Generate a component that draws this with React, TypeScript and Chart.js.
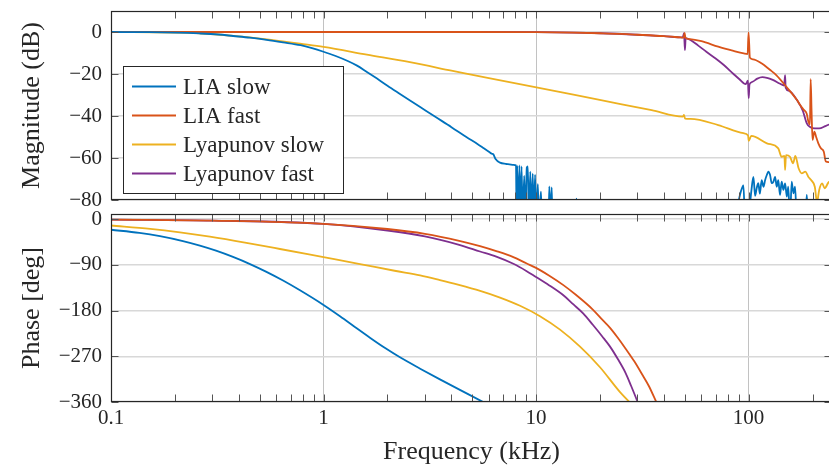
import React, { useEffect, useRef } from "react";
import { Chart, registerables } from "chart.js";

Chart.register(...registerables);

const SERIF = '"Liberation Serif", "Times New Roman", Times, serif';
const INK = "#262626";

const seriesNames = ["LIA slow", "LIA fast", "Lyapunov slow", "Lyapunov fast"];
const seriesColors = ["#0072BD", "#D95319", "#EDB120", "#7E2F8E"];

// Frequency axis (kHz)
const freqMin = 0.1;
const freqMax = 247;
const freqTicks = [
  0.1, 0.2, 0.3, 0.4, 0.5, 0.6, 0.7, 0.8, 0.9,
  1, 2, 3, 4, 5, 6, 7, 8, 9,
  10, 20, 30, 40, 50, 60, 70, 80, 90,
  100, 200,
];
const freqLabelValues = [0.1, 1, 10, 100];
const freqLabels = ["0.1", "1", "10", "100"];

// Magnitude axis (dB)
const magMin = -80;
const magMax = 10;
const magTicks = [0, -20, -40, -60, -80];

// Phase axis (deg)
const phaseMin = -360;
const phaseMax = 10;
const phaseTicks = [0, -90, -180, -270, -360];

// ---- Magnitude responses ----
const liaSlowMagFreq = [
  0.1, 0.15, 0.2, 0.26, 0.32, 0.376, 0.451, 0.54, 0.645, 0.78,
  0.883, 1.0, 1.133, 1.3, 1.438, 1.6, 1.786, 2.0, 2.3, 2.85,
  3.3, 4.0, 4.7, 5.3, 5.65, 6.0, 6.2, 6.3, 6.45, 6.77,
  7.2, 7.5, 7.85, 8.05, 8.1, 8.15, 8.25, 8.35, 8.45, 8.55,
  8.65, 8.8, 8.9, 9.05, 9.15, 9.25, 9.4, 9.5, 9.65, 9.75,
  9.9, 10.0, 10.2, 10.3, 10.55, 10.65, 11.45, 11.55, 11.7, 11.85,
  11.95, 15.3, 15.5, 15.7, 85, 89.5, 92, 94.6, 96.3, 100,
  103, 105.4, 107.4, 109.4, 111.2, 113, 115.3, 117.5, 119.7, 122,
  123.9, 126.2, 128.5, 130.9, 133.3, 135.8, 138, 140.6, 143.2, 145.9,
  148.6, 151.4, 153.8, 156.7, 159.6, 162.6, 165.6, 168.7, 185, 187.9,
  191, 247,
];
const liaSlowMagDb = [
  0, -0.1, -0.3, -0.7, -1.2, -1.9, -2.7, -3.7, -4.9, -6.3,
  -7.7, -9.4, -11.3, -13.8, -16, -19, -22.2, -25.6, -29.6, -35.7,
  -39.9, -45.3, -50, -53.3, -55.2, -57, -58, -58.3, -60.5, -62.2,
  -62.8, -63, -63.3, -63.5, -90, -63.7, -90, -63.5, -90, -64,
  -90, -68.5, -90, -64.5, -64, -90, -66.5, -90, -67.5, -90,
  -68, -90, -72.5, -90, -76, -90, -90, -73.5, -90, -74,
  -90, -90, -79.3, -90, -90, -81, -76, -73, -90, -88,
  -76, -69, -78, -74, -72, -77, -70.5, -73.7, -70.5, -68,
  -66.5, -68, -72, -71.3, -69, -73.7, -70.5, -77.6, -71.3, -75.2,
  -72.1, -78.4, -73.7, -90, -71.3, -76.8, -73.7, -90, -90, -77.6,
  -90, -90,
];

const liaFastMagFreq = [
  0.1, 1, 5, 10, 15, 20, 25, 30, 40, 48,
  49.5, 50, 50.5, 53, 60, 72, 85, 95, 99, 100,
  101.5, 105, 115, 126, 135, 151, 169, 175, 182, 188,
  191, 194.5, 196, 198, 200, 204, 208, 213, 219, 226,
  231, 240, 247,
];
const liaFastMagDb = [
  0, 0, 0, -0.1, -0.3, -0.6, -0.9, -1.3, -2.0, -2.6,
  -2.7, -0.4, -2.8, -3.4, -4.4, -7, -9, -10.2, -10.5, -0.2,
  -12.3, -13, -14.9, -18, -20.5, -26.2, -32.4, -34.8, -37.1, -39,
  -42.5, -44, -22.5, -38, -51.4, -47.5, -50, -53, -55.4, -57,
  -61.7, -62, -63,
];

const lyapSlowMagFreq = [
  0.1, 0.2, 0.262, 0.376, 0.541, 0.776, 1.0, 1.6, 2.55, 4,
  6, 9.9, 15, 25, 35, 49, 49.7, 50.3, 53.3, 72,
  94.6, 99.5, 100.2, 103, 122, 138, 143, 147.5, 148.6, 150,
  156.7, 162, 166, 172, 178, 185, 191, 197, 205, 210,
  215, 222, 228, 240, 247,
];
const lyapSlowMagDb = [
  0, -0.3, -0.6, -1.8, -3.5, -5.6, -7.1, -10.8, -14.4, -18.4,
  -22, -26.3, -29.8, -34.3, -37.2, -40.3, -39.5, -41.3, -41.4, -44.3,
  -48.2, -49.3, -51.8, -49.5, -53, -55.4, -59.4, -59, -65.7, -58.6,
  -59.4, -62.5, -59, -64.9, -67.3, -66.5, -68.9, -70.5, -73.7, -81,
  -75.2, -72.1, -74.4, -71.3, -72,
];

const lyapFastMagFreq = [
  0.1, 1, 5, 10, 20, 30, 40, 49, 49.7, 50.2,
  50.6, 53.3, 58, 63.3, 70, 76.5, 85, 90.6, 97, 99.3,
  100.2, 101, 104, 110, 116, 122, 130, 140, 147, 148.6,
  149.5, 155, 169, 180, 188, 194, 205, 215, 230, 247,
];
const lyapFastMagDb = [
  0, 0, 0, -0.1, -0.6, -1.3, -2.0, -2.6, -0.6, -8.6,
  -2.9, -3.8, -6.5, -9.4, -12.6, -15.7, -20, -22.5, -24.8, -23.2,
  -31.5, -25, -23.8, -22.2, -21.5, -21.8, -22.8, -24.5, -25.5, -20.5,
  -26.5, -28, -32.4, -37.5, -43.5, -45.1, -45.9, -45.9, -44.8, -43.5,
];

// ---- Phase responses ----
const liaSlowPhaseFreq = [
  0.1, 0.136, 0.17, 0.218, 0.262, 0.312, 0.375, 0.451, 0.536, 0.645,
  0.775, 1.0, 1.2, 1.41, 1.66, 1.95, 2.29, 2.85, 3.53, 4.89, 6.77,
];
const liaSlowPhaseDeg = [
  -21, -27.2, -33.7, -43.4, -52.3, -62.2, -74.5, -88.6, -103.5, -121,
  -140.2, -169, -191.7, -212.9, -234, -253.9, -272.1, -294.4, -315.5, -346.5, -377.4,
];

const liaFastPhaseFreq = [
  0.1, 0.3, 1.0, 2.0, 3.0, 4.35, 5.45, 6.5, 7.82, 9,
  10, 11.5, 13.45, 15.5, 18.5, 20.5, 22.3, 24.3, 26.4, 29,
  31.8, 34, 36.7, 39,
];
const liaFastPhaseDeg = [
  -1, -3, -9.3, -19.5, -29, -42.7, -53.2, -63, -74.9, -87,
  -96, -111, -130, -150, -178, -198, -214, -234, -255, -280,
  -308, -329, -359, -383,
];

const lyapSlowPhaseFreq = [
  0.1, 0.153, 0.211, 0.292, 0.427, 0.624, 1.0, 1.485, 2.16, 2.85,
  3.53, 4.29, 5.46, 6.77, 8.41, 10.44, 12.97, 16.11, 20.0, 24.85,
  30.86,
];
const lyapSlowPhaseDeg = [
  -12.6, -19.2, -26.1, -34.7, -46.3, -58.9, -75, -88.5, -101.7, -110.7,
  -119.9, -128.9, -141.2, -154.4, -170.6, -191.1, -217.6, -251.1, -291.6, -340.6,
  -381,
];

const lyapFastPhaseFreq = [
  0.1, 0.3, 1.0, 2.0, 3.0, 4.35, 5.45, 6.5, 7.82, 9,
  10, 11.5, 13.45, 15, 16.7, 18.5, 20.5, 22.3, 24.3, 26.4,
  28, 30, 32,
];
const lyapFastPhaseDeg = [
  -1, -3, -9.5, -22.5, -34, -50.6, -63.8, -74, -88, -102,
  -114, -130, -150, -168, -186, -208, -231, -251, -276, -303,
  -328, -359, -390,
];

type Pt = { x: number; y: number };
const toPoints = (f: number[], v: number[]): Pt[] => f.map((x, i) => ({ x, y: v[i] }));

const signed = (v: number) => (v < 0 ? "\u2212" + Math.abs(v) : String(v));
const isDecade = (v: number | undefined) => {
  if (v === undefined || v <= 0) return false;
  const l = Math.log10(v);
  return Math.abs(l - Math.round(l)) < 1e-9;
};

function makeDatasets(series: Pt[][]) {
  return series.map((data, i) => ({
    label: seriesNames[i],
    data,
    borderColor: seriesColors[i],
    backgroundColor: seriesColors[i],
    borderWidth: 1.8,
    pointRadius: 0,
    fill: false,
    cubicInterpolationMode: "monotone" as const,
    clip: 0,
  }));
}

// Box around the plot area with inward tick marks on all four sides
const axesFrame = {
  id: "axesFrame",
  afterDatasetsDraw(chart: any) {
    const { ctx, chartArea: a, scales } = chart;
    const L = Math.round(a.left) + 0.5;
    const R = Math.round(a.right) - 0.5;
    const T = Math.round(a.top) + 0.5;
    const B = Math.round(a.bottom) - 0.5;
    ctx.save();
    ctx.lineWidth = 1;
    ctx.strokeStyle = "#555555";
    ctx.beginPath();
    for (const v of freqTicks) {
      const x = Math.round(scales.x.getPixelForValue(v)) + 0.5;
      if (x <= L + 1 || x >= R - 1) continue;
      ctx.moveTo(x, T);
      ctx.lineTo(x, T + 7);
      ctx.moveTo(x, B);
      ctx.lineTo(x, B - 7);
    }
    for (const t of scales.y.ticks) {
      const y = Math.round(scales.y.getPixelForValue(t.value)) + 0.5;
      ctx.moveTo(L, y);
      ctx.lineTo(L + 7, y);
      ctx.moveTo(R, y);
      ctx.lineTo(R - 7, y);
    }
    ctx.stroke();
    ctx.strokeStyle = INK;
    ctx.lineWidth = 1.2;
    ctx.strokeRect(L, T, R - L, B - T);
    ctx.restore();
  },
};

// Legend box placed inside the lower-left corner of the plot area
const insetLegend = {
  id: "insetLegend",
  afterDraw(chart: any, _args: any, opts: any) {
    if (!opts || !opts.show) return;
    const { ctx, chartArea: a } = chart;
    const w = 220;
    const h = 127;
    const x0 = Math.round(a.left) + 12;
    const y0 = Math.round(a.bottom) - 7 - h;
    ctx.save();
    ctx.fillStyle = "#ffffff";
    ctx.fillRect(x0, y0, w, h);
    ctx.lineWidth = 1;
    ctx.strokeStyle = INK;
    ctx.strokeRect(x0 + 0.5, y0 + 0.5, w, h);
    ctx.font = `23px ${SERIF}`;
    ctx.textBaseline = "middle";
    ctx.textAlign = "left";
    chart.data.datasets.forEach((ds: any, i: number) => {
      const y = y0 + 20.5 + i * 29;
      ctx.strokeStyle = ds.borderColor;
      ctx.lineWidth = 2;
      ctx.beginPath();
      ctx.moveTo(x0 + 9, y);
      ctx.lineTo(x0 + 53, y);
      ctx.stroke();
      ctx.fillStyle = INK;
      ctx.fillText(ds.label, x0 + 60, y + 1);
    });
    ctx.restore();
  },
};

type PanelOpts = {
  series: Pt[][];
  yMin: number;
  yMax: number;
  yTicks: number[];
  yTitle: string;
  showFreq: boolean;
  legend: boolean;
  padding: { top: number; right: number; bottom: number; left: number };
};

function panelConfig(o: PanelOpts): any {
  return {
    type: "line",
    data: { datasets: makeDatasets(o.series) },
    options: {
      animation: false,
      responsive: false,
      events: [],
      layout: { padding: o.padding },
      plugins: {
        legend: { display: false },
        tooltip: { enabled: false },
        insetLegend: { show: o.legend },
      },
      scales: {
        x: {
          type: "logarithmic",
          min: freqMin,
          max: freqMax,
          afterBuildTicks: (s: any) => {
            s.ticks = freqTicks.map((v) => ({ value: v }));
          },
          ticks: {
            display: o.showFreq,
            autoSkip: false,
            maxRotation: 0,
            minRotation: 0,
            padding: 4,
            color: INK,
            font: { family: SERIF, size: 21 },
            callback: (v: number) => {
              const i = freqLabelValues.findIndex((d) => Math.abs(d - v) < 1e-9);
              return i >= 0 ? freqLabels[i] : "";
            },
          },
          grid: {
            drawTicks: false,
            lineWidth: 1,
            color: (c: any) => (isDecade(c.tick?.value) ? "#c2c2c2" : "rgba(0,0,0,0)"),
          },
          border: { display: false },
          title: {
            display: o.showFreq,
            text: "Frequency (kHz)",
            color: INK,
            font: { family: SERIF, size: 26, lineHeight: 1.1 },
            padding: { top: 0, bottom: 0 },
          },
          afterFit: (s: any) => {
            s.height = o.showFreq ? 64 : 0;
            s.paddingLeft = 0;
            s.paddingRight = 0;
          },
        },
        y: {
          type: "linear",
          min: o.yMin,
          max: o.yMax,
          afterBuildTicks: (s: any) => {
            s.ticks = o.yTicks.map((v) => ({ value: v }));
          },
          ticks: {
            padding: 9,
            color: INK,
            font: { family: SERIF, size: 21 },
            callback: (v: number) => signed(v),
          },
          grid: { drawTicks: false, color: "#d8d8d8", lineWidth: 1.5 },
          border: { display: false },
          title: {
            display: true,
            text: o.yTitle,
            color: INK,
            font: { family: SERIF, size: 26, lineHeight: 1.1 },
            padding: { top: 18, bottom: 0 },
          },
          afterFit: (s: any) => {
            s.width = 111;
            s.paddingTop = 0;
            s.paddingBottom = 0;
          },
        },
      },
    },
    plugins: [axesFrame, insetLegend],
  };
}

const TOP_H = 225;
const BOTTOM_TOP = 195;
const BOTTOM_H = 271;
const CANVAS_W = 834;

export default function App() {
  const magRef = useRef<HTMLCanvasElement>(null);
  const phaseRef = useRef<HTMLCanvasElement>(null);

  useEffect(() => {
    const magChart = new Chart(
      magRef.current as HTMLCanvasElement,
      panelConfig({
        series: [
          toPoints(liaSlowMagFreq, liaSlowMagDb),
          toPoints(liaFastMagFreq, liaFastMagDb),
          toPoints(lyapSlowMagFreq, lyapSlowMagDb),
          toPoints(lyapFastMagFreq, lyapFastMagDb),
        ],
        yMin: magMin,
        yMax: magMax,
        yTicks: magTicks,
        yTitle: "Magnitude (dB)",
        showFreq: false,
        legend: true,
        padding: { top: 11, right: 2, bottom: 25, left: 0 },
      })
    );
    const phaseChart = new Chart(
      phaseRef.current as HTMLCanvasElement,
      panelConfig({
        series: [
          toPoints(liaSlowPhaseFreq, liaSlowPhaseDeg),
          toPoints(liaFastPhaseFreq, liaFastPhaseDeg),
          toPoints(lyapSlowPhaseFreq, lyapSlowPhaseDeg),
          toPoints(lyapFastPhaseFreq, lyapFastPhaseDeg),
        ],
        yMin: phaseMin,
        yMax: phaseMax,
        yTicks: phaseTicks,
        yTitle: "Phase [deg]",
        showFreq: true,
        legend: false,
        padding: { top: 19, right: 2, bottom: 0, left: 0 },
      })
    );
    return () => {
      magChart.destroy();
      phaseChart.destroy();
    };
  }, []);

  return (
    <div
      style={{
        position: "fixed",
        left: 0,
        top: 0,
        width: 829,
        height: 466,
        overflow: "hidden",
        background: "#ffffff",
      }}
    >
      <canvas
        ref={magRef}
        width={CANVAS_W}
        height={TOP_H}
        style={{ position: "absolute", left: 0, top: 0, display: "block" }}
      />
      <canvas
        ref={phaseRef}
        width={CANVAS_W}
        height={BOTTOM_H}
        style={{ position: "absolute", left: 0, top: BOTTOM_TOP, display: "block" }}
      />
    </div>
  );
}
